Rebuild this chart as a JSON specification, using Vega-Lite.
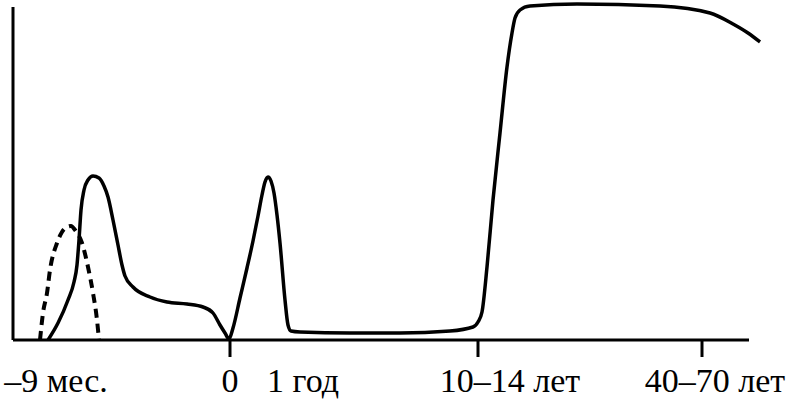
{
  "$schema": "https://vega.github.io/schema/vega-lite/v6.json",
  "width": 792,
  "height": 399,
  "autosize": "none",
  "padding": 0,
  "background": "white",
  "config": {"view": {"stroke": null}, "font": "Liberation Serif"},
  "layer": [
    {
      "data": {"values": [
        {"x": 0, "y": 0, "x2": 736, "y2": 0},
        {"x": 0, "y": 0, "x2": 0, "y2": 333},
        {"x": 217, "y": 0, "x2": 217, "y2": -17},
        {"x": 465, "y": 0, "x2": 465, "y2": -17},
        {"x": 689, "y": 0, "x2": 689, "y2": -17}
      ]},
      "mark": {"type": "rule", "color": "black", "strokeWidth": 3},
      "encoding": {
        "x": {"field": "x", "type": "quantitative", "scale": {"domain": [-13, 779], "nice": false, "zero": false}, "axis": null},
        "y": {"field": "y", "type": "quantitative", "scale": {"domain": [-59, 340], "nice": false, "zero": false}, "axis": null},
        "x2": {"field": "x2"},
        "y2": {"field": "y2"}
      }
    },
    {
      "data": {"values": [
        {"x": 35, "y": 0}, {"x": 45, "y": 17}, {"x": 55, "y": 40}, {"x": 61, "y": 58},
        {"x": 64, "y": 75}, {"x": 66, "y": 100}, {"x": 68, "y": 130}, {"x": 71, "y": 150},
        {"x": 75, "y": 160}, {"x": 80, "y": 164}, {"x": 86, "y": 162}, {"x": 91, "y": 154},
        {"x": 95, "y": 143}, {"x": 100, "y": 120}, {"x": 105, "y": 95}, {"x": 109, "y": 75},
        {"x": 112, "y": 64}, {"x": 120, "y": 53}, {"x": 137, "y": 43}, {"x": 154, "y": 38},
        {"x": 174, "y": 36}, {"x": 190, "y": 33}, {"x": 200, "y": 27}, {"x": 207, "y": 15},
        {"x": 212, "y": 7}, {"x": 216, "y": 1}, {"x": 220, "y": 12}, {"x": 227, "y": 42},
        {"x": 234, "y": 72}, {"x": 240, "y": 99}, {"x": 245, "y": 124}, {"x": 249, "y": 145},
        {"x": 252, "y": 158}, {"x": 255, "y": 163}, {"x": 258, "y": 159}, {"x": 261, "y": 147},
        {"x": 264, "y": 125}, {"x": 267, "y": 97}, {"x": 272, "y": 40}, {"x": 275, "y": 15}, {"x": 278, "y": 9},
        {"x": 287, "y": 8}, {"x": 337, "y": 7}, {"x": 387, "y": 7}, {"x": 437, "y": 9},
        {"x": 460, "y": 13}, {"x": 465, "y": 18}, {"x": 469, "y": 28}, {"x": 474, "y": 73},
        {"x": 480, "y": 140}, {"x": 487, "y": 207}, {"x": 494, "y": 273}, {"x": 499, "y": 307},
        {"x": 502, "y": 322}, {"x": 507, "y": 330}, {"x": 517, "y": 334}, {"x": 564, "y": 336},
        {"x": 647, "y": 334}, {"x": 697, "y": 327}, {"x": 720, "y": 316}, {"x": 735, "y": 307},
        {"x": 747, "y": 298}
      ]},
      "mark": {"type": "line", "color": "black", "strokeWidth": 3.5, "interpolate": "monotone"},
      "encoding": {
        "x": {"field": "x", "type": "quantitative"},
        "y": {"field": "y", "type": "quantitative"}
      }
    },
    {
      "data": {"values": [
        {"x": 27, "y": 0}, {"x": 30, "y": 27}, {"x": 34, "y": 47}, {"x": 37, "y": 70},
        {"x": 44, "y": 97}, {"x": 49, "y": 108}, {"x": 54, "y": 113}, {"x": 58, "y": 114},
        {"x": 62, "y": 110}, {"x": 69, "y": 97}, {"x": 75, "y": 73}, {"x": 80, "y": 47},
        {"x": 84, "y": 20}, {"x": 86, "y": 0}
      ]},
      "mark": {"type": "line", "color": "black", "strokeWidth": 4, "interpolate": "monotone", "strokeDash": [9, 6]},
      "encoding": {
        "x": {"field": "x", "type": "quantitative"},
        "y": {"field": "y", "type": "quantitative"}
      }
    },
    {
      "data": {"values": [
        {"x": 43, "y": -52, "label": "–9 мес."},
        {"x": 217, "y": -52, "label": "0"},
        {"x": 290, "y": -52, "label": "1 год"},
        {"x": 497, "y": -52, "label": "10–14 лет"},
        {"x": 702, "y": -52, "label": "40–70 лет"}
      ]},
      "mark": {"type": "text", "font": "serif", "fontSize": 34, "color": "black", "align": "center", "baseline": "alphabetic"},
      "encoding": {
        "x": {"field": "x", "type": "quantitative"},
        "y": {"field": "y", "type": "quantitative"},
        "text": {"field": "label"}
      }
    }
  ]
}
